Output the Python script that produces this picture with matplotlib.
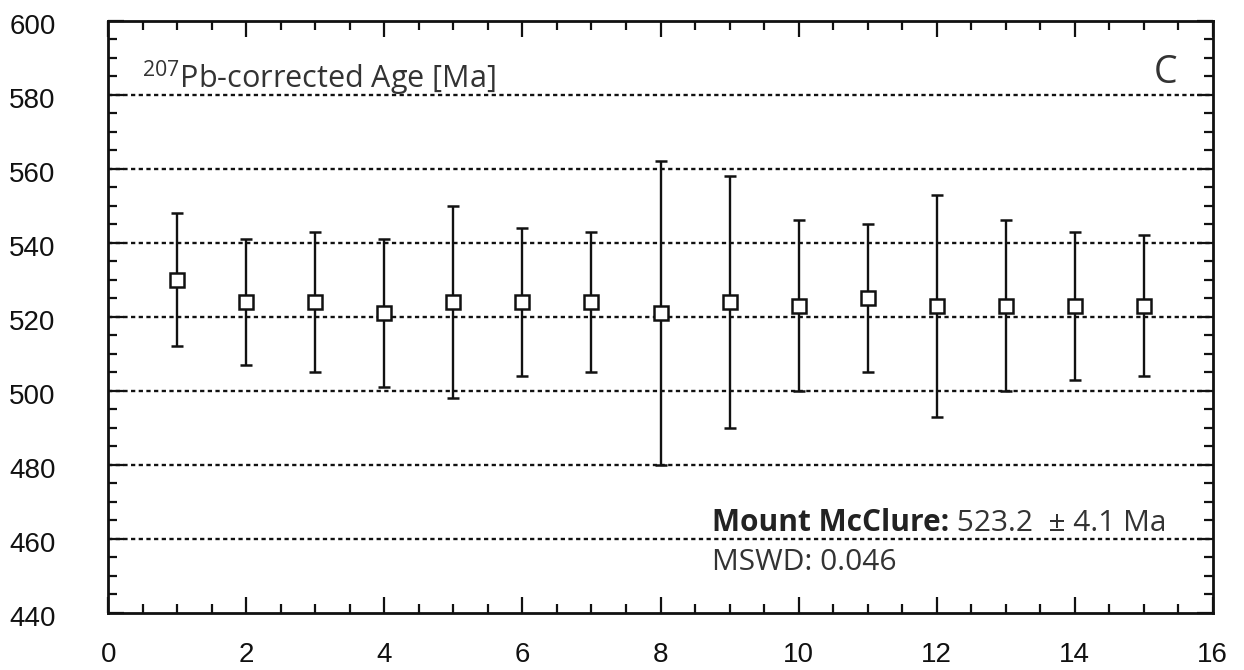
import matplotlib
matplotlib.use("Agg")
import matplotlib.pyplot as plt
from matplotlib.ticker import MultipleLocator
from matplotlib.transforms import ScaledTranslation
import numpy as np

# Data
analysis = [1, 2, 3, 4, 5, 6, 7, 8, 9, 10, 11, 12, 13, 14, 15]
age = [530, 524, 524, 521, 524, 524, 524, 521, 524, 523, 525, 523, 523, 523, 523]
age_upper = [548, 541, 543, 541, 550, 544, 543, 562, 558, 546, 545, 553, 546, 543, 542]
age_lower = [512, 507, 505, 501, 498, 504, 505, 480, 490, 500, 505, 493, 500, 503, 504]
x_ticks = [0, 2, 4, 6, 8, 10, 12, 14, 16]
y_ticks = [440, 460, 480, 500, 520, 540, 560, 580, 600]

plt.rcParams['mathtext.fontset'] = 'custom'
plt.rcParams['mathtext.rm'] = 'Open Sans'

W, H = 1244, 670
fig = plt.figure(figsize=(W / 100, H / 100), dpi=100)
L, R, T, B = 108.3, 1212.7, 20.7, 612.7
ax = fig.add_axes([L / W, 1 - B / H, (R - L) / W, (B - T) / H])

x = np.array(analysis)
y = np.array(age)
err = [y - np.array(age_lower), np.array(age_upper) - y]

ax.errorbar(x, y, yerr=err, fmt='s', mfc='white', mec='#111111', ms=10.5, mew=1.8,
            ecolor='#111111', elinewidth=1.7, capsize=4.3, capthick=1.8, zorder=3)

ax.set_xlim(0, 16)
ax.set_ylim(440, 600)
ax.set_xticks(x_ticks)
ax.set_yticks(y_ticks)
ax.xaxis.set_minor_locator(MultipleLocator(0.5))
ax.yaxis.set_minor_locator(MultipleLocator(5))

for g in y_ticks[1:-1]:
    ax.axhline(g, color='#111111', lw=1.7, ls=(0, (1.8, 1.45)), zorder=1)

for s in ax.spines.values():
    s.set_linewidth(2.0)
    s.set_color('#111111')

ax.tick_params(which='both', direction='in', top=True, right=True, width=1.6, color='#111111')
ax.tick_params(which='major', length=11.5)
ax.tick_params(which='minor', length=6.5)
ax.tick_params(axis='y', which='major', pad=38, labelsize=20, labelcolor='#111111')
ax.tick_params(axis='x', which='major', pad=21, labelsize=20, labelcolor='#111111')
for lab in ax.get_xticklabels() + ax.get_yticklabels():
    lab.set_fontfamily('Liberation Sans')
for lab in ax.get_yticklabels():
    lab.set_horizontalalignment('right')
    lab.set_transform(lab.get_transform() + ScaledTranslation(0, -0.03, fig.dpi_scale_trans))

ax.text(0.0302, 0.886, r'$\mathregular{^{207}}$Pb-corrected Age [Ma]', transform=ax.transAxes,
        fontsize=22, family='Open Sans', color='#333333', va='baseline', ha='left')
ax.text(0.9677, 0.8948, 'C', transform=ax.transAxes, fontsize=27, family='Open Sans',
        color='#333333', va='baseline', ha='right')

bold = ax.text(0.5464, 0.138, 'Mount McClure:', transform=ax.transAxes, fontsize=21.5,
               family='Open Sans', weight='bold', color='#222222', va='baseline', ha='left')
ax.annotate(' 523.2  \u00b1 4.1 Ma', xy=(1, 0), xycoords=bold, fontsize=21.5,
            family='Open Sans', color='#333333', va='bottom', ha='left')
ax.text(0.5464, 0.072, 'MSWD: 0.046', transform=ax.transAxes, fontsize=21.5,
        family='Open Sans', color='#333333', va='baseline', ha='left')

fig.savefig('out.png', dpi=100)
